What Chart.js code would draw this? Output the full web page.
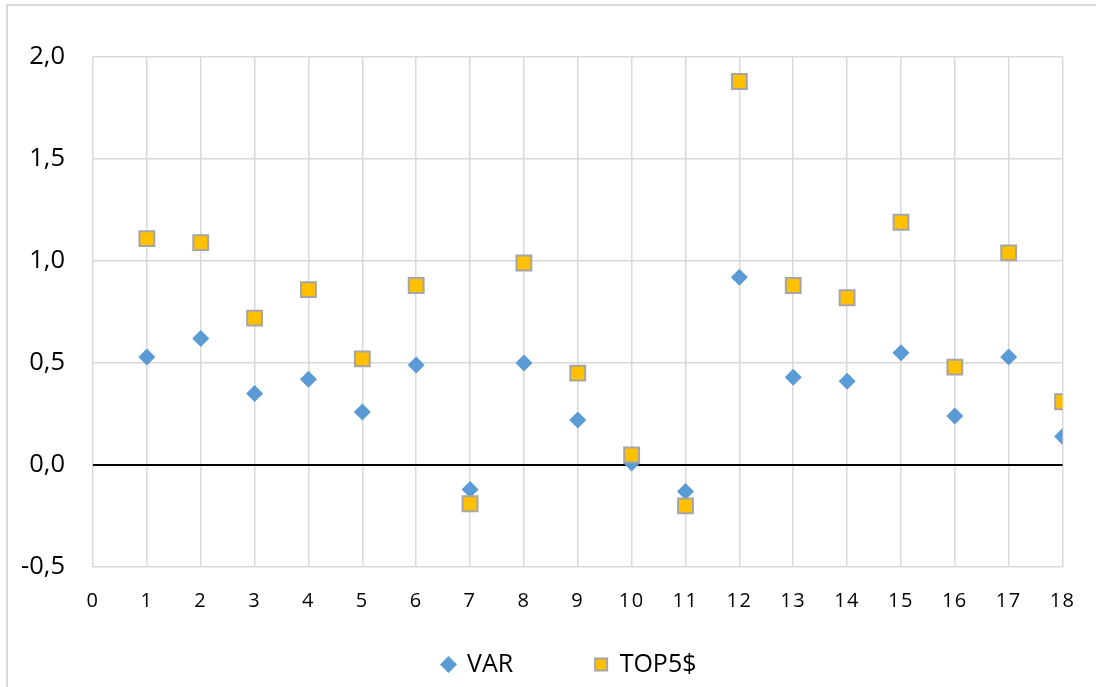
<!DOCTYPE html>
<html lang="en">
<head>
  <meta charset="UTF-8" />
  <title>VAR / TOP5$</title>
  <script src="https://cdn.jsdelivr.net/npm/chart.js"></script>
  <style>
    html, body { margin: 0; padding: 0; background: #fff; overflow: hidden; }
    #frame { position: absolute; left: 6px; top: 4px; width: 2000px; height: 2000px; border: 2px solid #d9d9d9; }
    #chart { position: absolute; left: 0; top: 0; }
  </style>
</head>
<body>
  <div id="frame"></div>
  <canvas id="chart" width="1096" height="687"></canvas>

  <script>
    // values
    const xValues = [1, 2, 3, 4, 5, 6, 7, 8, 9, 10, 11, 12, 13, 14, 15, 16, 17, 18];
    const varValues = [0.53, 0.62, 0.35, 0.42, 0.26, 0.49, -0.12, 0.50, 0.22, 0.01, -0.13, 0.92, 0.43, 0.41, 0.55, 0.24, 0.53, 0.14];
    const top5Values = [1.11, 1.09, 0.72, 0.86, 0.52, 0.88, -0.19, 0.99, 0.45, 0.05, -0.20, 1.88, 0.88, 0.82, 1.19, 0.48, 1.04, 0.31];
    const seriesNames = ['VAR', 'TOP5$'];

    const toPoints = vals => vals.map((v, i) => ({ x: xValues[i], y: v }));
    const font = '"Open Sans", "Liberation Sans", sans-serif';

    // the axis boxes are kept narrow so the legend sits where it should;
    // let the tick labels draw outside them, and space the x labels a bit
    const tickLabels = {
      id: 'tickLabels',
      beforeDraw(chart) {
        const sx = chart.scales.x, sy = chart.scales.y;
        if (sx._patched) return;
        sx._computeLabelArea = () => undefined;
        sy._computeLabelArea = () => undefined;
        const orig = sx.drawLabels.bind(sx);
        sx.drawLabels = function (area) {
          const ctx = chart.ctx;
          ctx.save();
          ctx.letterSpacing = '1.5px';
          orig(area);
          ctx.restore();
        };
        sx._patched = true;
      }
    };

    new Chart(document.getElementById('chart'), {
      type: 'scatter',
      data: {
        datasets: [
          {
            label: seriesNames[0],
            data: toPoints(varValues),
            pointStyle: 'rectRot',
            pointRadius: 8.5,
            pointHoverRadius: 8.5,
            backgroundColor: '#5b9bd5',
            borderColor: '#5b9bd5',
            borderWidth: 0,
            order: 1
          },
          {
            label: seriesNames[1],
            data: toPoints(top5Values),
            pointStyle: 'rect',
            pointRadius: 10.5,
            pointHoverRadius: 10.5,
            backgroundColor: '#ffc000',
            borderColor: '#a5a5a5',
            borderWidth: 2,
            order: 0
          }
        ]
      },
      options: {
        responsive: false,
        animation: false,
        layout: { padding: { top: 57, right: 29, left: 72, bottom: 0 } },
        plugins: {
          tooltip: { enabled: false },
          legend: {
            position: 'bottom',
            labels: {
              usePointStyle: true,
              boxWidth: 12,
              boxHeight: 12,
              padding: 82,
              color: '#000',
              font: { family: font, size: 25 },
              sort: (a, b) => a.datasetIndex - b.datasetIndex
            }
          }
        },
        scales: {
          x: {
            type: 'linear',
            min: 0,
            max: 18,
            afterFit: s => { s.height = 3; },
            ticks: { stepSize: 1, padding: 22, color: '#000', font: { family: font, size: 20 } },
            grid: { color: '#d9d9d9', lineWidth: 1.5, drawTicks: false },
            border: { display: false }
          },
          y: {
            min: -0.5,
            max: 2,
            afterFit: s => { s.width = 21; },
            ticks: {
              stepSize: 0.5,
              padding: 28,
              color: '#000',
              font: { family: font, size: 25.5 },
              callback: v => v.toFixed(1).replace('.', ',')
            },
            grid: {
              color: c => (c.tick && c.tick.value === 0 ? '#000' : '#d9d9d9'),
              lineWidth: c => (c.tick && c.tick.value === 0 ? 2 : 1.5),
              drawTicks: false
            },
            border: { display: false }
          }
        }
      },
      plugins: [tickLabels]
    });
  </script>
</body>
</html>
